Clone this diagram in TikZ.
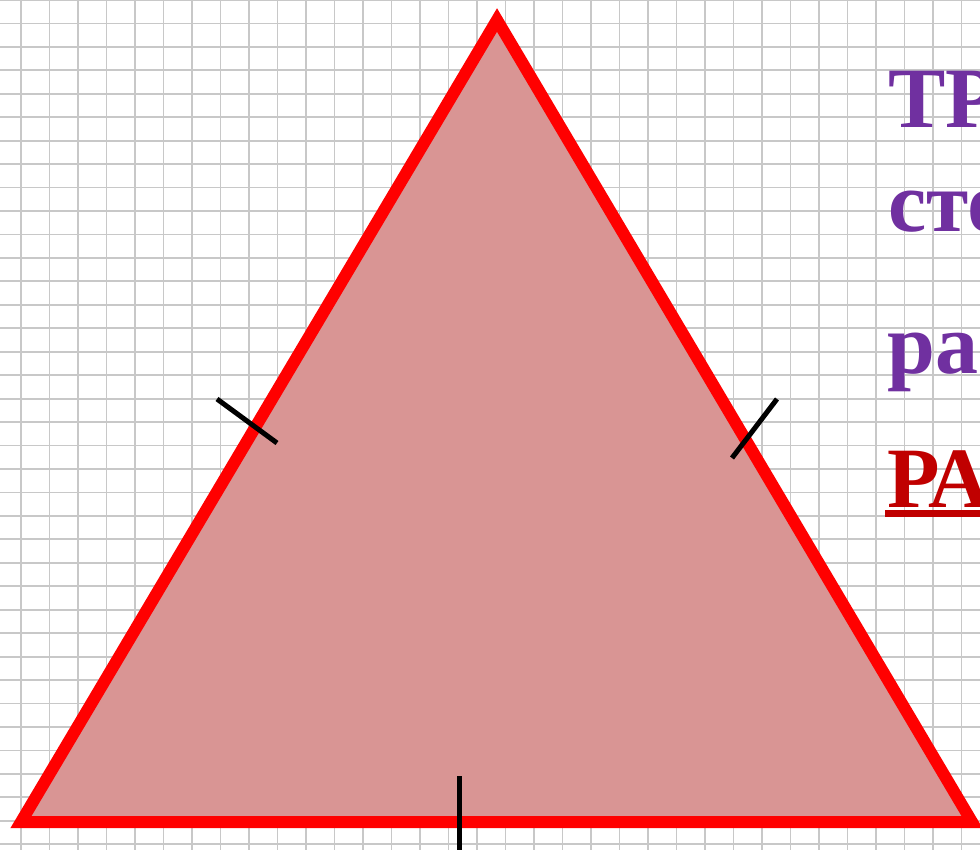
\documentclass[tikz,border=0pt]{standalone}
\usepackage{fontspec}
\setmainfont{Liberation Serif}
\definecolor{gridc}{RGB}{200,200,200}
\definecolor{trifill}{RGB}{217,149,148}
\definecolor{txtpurple}{RGB}{112,48,160}
\definecolor{txtred}{RGB}{192,0,0}
\tikzset{
  gridline/.style={draw=gridc, line width=1.8pt},
  trisides/.style={draw=red, fill=trifill, line width=12pt, miter limit=10, line join=miter},
  tickmark/.style={draw=black, line width=5pt},
  bigtext/.style={anchor=base west, inner sep=0pt, font=\fontsize{86}{86}\selectfont\bfseries},
}
\begin{document}
\begin{tikzpicture}[x=1pt,y=-1pt]
\useasboundingbox (0,0) rectangle (980,850);
\clip (0,0) rectangle (980,850);
\fill[white] (0,0) rectangle (980,850);
% graph paper
\foreach \k in {0,...,35} \draw[gridline] ({-7.5+28.5*\k},0) -- ({-7.5+28.5*\k},850);
\foreach \k in {0,...,37} \draw[gridline] (0,{23.45*\k}) -- (980,{23.45*\k});
% triangle
\coordinate (A) at (21,822);
\coordinate (B) at (497,20);
\coordinate (C) at (972,822);
\path[trisides] (A) -- (B) -- (C) -- cycle;
% equal-side ticks
\coordinate (t1a) at (217,399); \coordinate (t1b) at (277,443);
\coordinate (t2a) at (777,399); \coordinate (t2b) at (732,458);
\coordinate (t3a) at (459,776); \coordinate (t3b) at (459,856);
\draw[tickmark] (t1a) -- (t1b);
\draw[tickmark] (t2a) -- (t2b);
\draw[tickmark] (t3a) -- (t3b);
% text
\node[bigtext, text=txtpurple] (l1) at (888,128) {ТР};
\node[bigtext, text=txtpurple] (l2) at (888,232) {сто};
\node[bigtext, text=txtpurple] (l3) at (887,373) {рав};
\node[bigtext, text=txtred] (l4) at (887,507) {РАВ};
\fill[txtred] (885,510) rectangle (990,517);
\end{tikzpicture}
\end{document}
